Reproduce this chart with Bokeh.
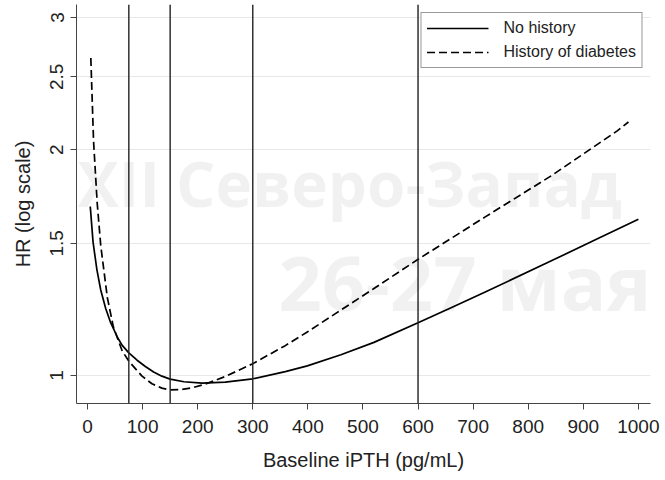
from bokeh.plotting import figure
from bokeh.models import FixedTicker, Span, Legend, LegendItem, Label
from bokeh.embed import file_html
from bokeh.resources import INLINE

# ---- data ----
no_hist_x = [5, 10, 17, 24, 33, 42, 55, 63, 75, 90, 105, 120, 135, 150, 175, 208, 250, 300, 359, 399,
             460, 520, 601, 660, 722, 843, 920, 1000]
no_hist_hr = [1.68, 1.507, 1.384, 1.30, 1.228, 1.176, 1.122, 1.097, 1.072, 1.048, 1.028, 1.011, 0.998,
              0.989, 0.981, 0.977, 0.980, 0.99, 1.012, 1.030, 1.066, 1.107, 1.177, 1.231, 1.292, 1.423,
              1.514, 1.615]

diab_x = [6, 11, 17.5, 24, 36, 47, 63, 75, 99, 117, 135, 150, 170, 190, 214, 250, 300, 359, 399, 450,
          520, 601, 722, 843, 961, 982]
diab_hr = [2.65, 2.05, 1.70, 1.49, 1.27, 1.16, 1.078, 1.045, 0.998, 0.975, 0.962, 0.957, 0.958, 0.963,
           0.974, 0.997, 1.037, 1.096, 1.143, 1.209, 1.306, 1.43, 1.627, 1.848, 2.117, 2.177]

cutoffs = [75, 150, 300, 600]

x_ticks = [0, 100, 200, 300, 400, 500, 600, 700, 800, 900, 1000]
y_ticks = [1, 1.5, 2, 2.5, 3]
y_tick_labels = ["1", "1.5", "2", "2.5", "3"]

series_labels = ["No history", "History of diabetes"]
x_title = "Baseline iPTH (pg/mL)"
y_title = "HR (log scale)"
watermark = ["XII Северо-Запад", "26-27 мая"]

FONT = "Liberation Sans"
TXT = "#222222"
AX = "#444444"

p = figure(width=665, height=480, output_backend="svg", toolbar_location=None,
           y_axis_type="log", x_range=(-20, 1022), y_range=(0.9177, 3.122),
           min_border_left=76, min_border_right=15, min_border_top=4, min_border_bottom=77)

p.outline_line_color = None
p.background_fill_color = "white"
p.border_fill_color = "white"

# grid
p.xgrid.grid_line_color = None
p.ygrid.grid_line_color = "#e8e8e8"
p.ygrid.grid_line_width = 1
p.ygrid.ticker = FixedTicker(ticks=y_ticks)

# cutoff lines
for c in cutoffs:
    p.add_layout(Span(location=c, dimension="height", line_color="#222222", line_width=1.4))

r1 = p.line(no_hist_x, no_hist_hr, line_color="black", line_width=1.7, line_join="round")
r2 = p.line(diab_x, diab_hr, line_color="black", line_width=1.7, line_dash="8 4", line_join="round")

legend = Legend(items=[LegendItem(label=series_labels[0], renderers=[r1]),
                       LegendItem(label=series_labels[1], renderers=[r2])],
                location="top_right", margin=8, padding=5, spacing=4,
                glyph_width=62, glyph_height=20, label_height=20, label_standoff=15,
                label_text_font=FONT, label_text_font_size="16px", label_text_color=TXT,
                border_line_color="#333333", border_line_width=1,
                background_fill_color="white", background_fill_alpha=1)
p.add_layout(legend)

# faint watermark (kept inside the plot frame)
wm1 = Label(x=1, y=221, x_units="screen", y_units="screen", text=watermark[0],
            text_font="Open Sans", text_font_style="bold", text_font_size="62px",
            text_color="black", text_alpha=0.055, text_baseline="alphabetic", level="overlay")
wm2 = Label(x=202, y=122, x_units="screen", y_units="screen", text=watermark[1],
            text_font="Open Sans", text_font_style="bold", text_font_size="76px",
            text_color="black", text_alpha=0.055, text_baseline="alphabetic", level="overlay")
p.add_layout(wm1)
p.add_layout(wm2)

# x axis
xa = p.xaxis[0]
xa.ticker = FixedTicker(ticks=x_ticks)
xa.axis_label = x_title
xa.axis_label_text_font = FONT
xa.axis_label_text_font_size = "20px"
xa.axis_label_text_font_style = "normal"
xa.axis_label_text_color = TXT
xa.axis_label_standoff = 13
xa.major_label_text_font = FONT
xa.major_label_text_font_size = "19px"
xa.major_label_text_color = TXT
xa.major_label_standoff = 10
xa.major_tick_in = 0
xa.major_tick_out = 6
xa.minor_tick_line_color = None
xa.axis_line_color = AX
xa.major_tick_line_color = AX

# y axis
ya = p.yaxis[0]
ya.ticker = FixedTicker(ticks=y_ticks)
ya.major_label_overrides = {t: l for t, l in zip(y_ticks, y_tick_labels)}
ya.major_label_orientation = "vertical"
ya.axis_label = y_title
ya.axis_label_text_font = FONT
ya.axis_label_text_font_size = "20px"
ya.axis_label_text_font_style = "normal"
ya.axis_label_text_color = TXT
ya.axis_label_standoff = 14
ya.major_label_text_font = FONT
ya.major_label_text_font_size = "19px"
ya.major_label_text_color = TXT
ya.major_label_standoff = 7
ya.major_tick_in = 0
ya.major_tick_out = 6
ya.minor_tick_line_color = None
ya.axis_line_color = AX
ya.major_tick_line_color = AX

open("out.html", "w").write(file_html(p, INLINE))
